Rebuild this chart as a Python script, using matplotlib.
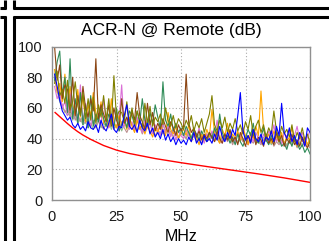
import matplotlib
matplotlib.use("Agg")
import matplotlib.pyplot as plt
from matplotlib.lines import Line2D
import numpy as np

plt.rcParams['font.family'] = ['Liberation Sans', 'DejaVu Sans']

title = "ACR-N @ Remote (dB)"
xlabel = "MHz"
xticks = [0, 25, 50, 75, 100]
yticks = [0, 20, 40, 60, 80, 100]

freq = list(range(1, 101))

blue = [82, 74, 65, 58, 55, 52, 54, 49, 47, 50,
        46, 48, 45, 51, 47, 46, 49, 44, 52, 47,
        45, 50, 56, 46, 44, 48, 47, 55, 62, 48,
        46, 49, 44, 52, 47, 45, 50, 43, 47, 41,
        44, 40, 46, 39, 43, 38, 41, 36, 40, 37,
        39, 36, 41, 38, 44, 37, 40, 36, 42, 38,
        40, 37, 43, 39, 48, 41, 38, 44, 40, 46,
        42, 55, 70, 45, 39, 42, 37, 46, 40, 38,
        43, 36, 41, 39, 45, 38, 48, 42, 63, 44,
        40, 47, 38, 42, 36, 44, 40, 35, 47, 44]
seagreen = [78, 90, 97, 68, 80, 57, 92, 53, 66, 50,
            70, 49, 62, 47, 68, 48, 56, 51, 60, 53,
            48, 56, 52, 47, 60, 45, 49, 54, 47, 58,
            55, 49, 58, 50, 66, 52, 48, 57, 50, 62,
            54, 47, 77, 52, 48, 56, 45, 50, 44, 47,
            42, 48, 44, 40, 46, 43, 39, 45, 41, 38,
            44, 40, 47, 42, 56, 44, 39, 42, 37, 41,
            36, 43, 38, 35, 40, 46, 42, 50, 39, 37,
            41, 47, 39, 36, 42, 38, 44, 40, 35, 37,
            33, 39, 35, 41, 37, 33, 36, 31, 34, 30]
orange = [85, 70, 76, 64, 82, 60, 74, 63, 55, 72,
          54, 68, 51, 62, 55, 70, 57, 52, 64, 50,
          53, 48, 66, 51, 47, 55, 49, 52, 46, 54,
          48, 44, 52, 46, 50, 43, 48, 45, 41, 47,
          44, 50, 45, 42, 57, 46, 43, 48, 40, 44,
          46, 42, 49, 38, 44, 41, 36, 43, 39, 46,
          41, 59, 44, 40, 37, 46, 42, 50, 39, 43,
          40, 45, 38, 47, 42, 36, 44, 40, 48, 42,
          71, 46, 39, 43, 37, 45, 41, 38, 44, 36,
          42, 39, 47, 40, 35, 43, 38, 41, 36, 40]
brown = [100, 78, 88, 66, 75, 72, 57, 80, 55, 68,
         56, 74, 60, 54, 66, 58, 92, 53, 62, 56,
         51, 62, 48, 60, 52, 47, 66, 50, 54, 48,
         58, 52, 70, 55, 51, 46, 63, 49, 57, 45,
         50, 46, 53, 48, 44, 51, 47, 42, 49, 45,
         48, 82, 50, 44, 47, 41, 45, 39, 43, 40,
         44, 41, 38, 45, 40, 37, 43, 39, 46, 38,
         41, 36, 44, 40, 35, 42, 38, 45, 36, 41,
         39, 35, 43, 37, 40, 36, 44, 38, 42, 35,
         40, 37, 43, 36, 39, 35, 41, 37, 34, 38]
olive = [76, 84, 68, 72, 63, 78, 59, 64, 77, 61,
         55, 70, 53, 66, 52, 67, 50, 62, 54, 68,
         52, 66, 49, 81, 53, 58, 57, 51, 64, 50,
         60, 49, 58, 52, 47, 63, 50, 61, 48, 54,
         51, 56, 49, 60, 52, 48, 55, 47, 53, 50,
         46, 52, 48, 55, 45, 51, 47, 53, 44, 50,
         56, 68, 49, 45, 52, 47, 54, 44, 50, 46,
         53, 45, 49, 43, 51, 46, 55, 42, 48, 52,
         44, 49, 41, 47, 43, 58, 45, 40, 48, 43,
         46, 41, 49, 38, 44, 40, 47, 39, 43, 37]
orchid = [74, 66, 70, 60, 64, 55, 72, 53, 58, 51,
          75, 50, 63, 52, 48, 65, 51, 54, 49, 66,
          50, 47, 55, 49, 58, 52, 75, 48, 53, 46,
          51, 45, 54, 48, 44, 52, 47, 50, 43, 49,
          46, 42, 50, 44, 48, 41, 46, 39, 45, 42,
          40, 46, 42, 38, 44, 40, 47, 41, 37, 43,
          39, 45, 41, 52, 40, 37, 43, 39, 45, 41,
          38, 44, 40, 47, 39, 36, 42, 38, 44, 40,
          37, 43, 39, 45, 41, 49, 38, 42, 36, 44,
          40, 46, 38, 42, 48, 39, 44, 37, 41, 45]
tan = [80, 72, 66, 62, 57, 60, 54, 58, 52, 56,
       51, 55, 50, 53, 48, 52, 47, 51, 49, 46,
       50, 47, 52, 46, 49, 45, 51, 47, 44, 48,
       46, 50, 45, 48, 43, 47, 52, 44, 46, 42,
       45, 48, 43, 46, 42, 45, 41, 44, 40, 43,
       42, 40, 44, 39, 42, 38, 41, 37, 40, 43,
       39, 42, 38, 41, 37, 40, 43, 38, 41, 36,
       40, 37, 41, 38, 42, 36, 39, 37, 40, 38,
       36, 39, 41, 37, 40, 35, 38, 36, 39, 37,
       35, 38, 36, 39, 34, 37, 35, 38, 36, 34]
lightgreen = [79, 71, 64, 60, 58, 55, 57, 52, 55, 50,
              53, 49, 51, 47, 50, 46, 49, 52, 47, 50,
              48, 52, 46, 50, 47, 51, 45, 49, 53, 47,
              50, 46, 52, 48, 45, 49, 47, 51, 44, 48,
              46, 43, 49, 45, 47, 42, 46, 44, 41, 45,
              43, 40, 44, 41, 45, 39, 43, 40, 42, 38,
              41, 44, 39, 42, 38, 41, 43, 39, 41, 37,
              40, 38, 42, 39, 41, 37, 40, 43, 38, 40,
              37, 41, 38, 40, 36, 39, 42, 37, 40, 38,
              36, 39, 37, 40, 35, 38, 36, 39, 37, 35]

limit_freq = [1.2, 2, 3, 4, 5, 6, 8, 10, 12, 15, 20, 25, 30, 40, 50, 60, 70, 80, 90, 100]
limit_val = [57, 55.8, 54.3, 52.8, 51.3, 49.8, 47, 44.5, 42.3, 39.5, 35.5, 32.5, 30.3,
             27, 24.3, 21.8, 19.4, 17, 14.4, 11.5]

series = [
    (lightgreen, "#8fbc8f"),
    (tan, "#bc8f8f"),
    (orchid, "#da70d6"),
    (orange, "#ffa500"),
    (seagreen, "#2e8b57"),
    (brown, "#8b4513"),
    (olive, "#808000"),
    (blue, "#0000ff"),
]

W, H = 329, 241
fig = plt.figure(figsize=(W / 100, H / 100), dpi=100)
ax = fig.add_axes([52 / W, 1 - 200 / H, 258 / W, 153.5 / H])

for vals, col in series:
    ax.plot(freq, vals, color=col, lw=0.8)
ax.plot(limit_freq, limit_val, color="#ff0000", lw=1.0)

ax.set_xlim(0, 100)
ax.set_ylim(0, 100)
ax.set_xticks(xticks)
ax.set_yticks(yticks)
ax.tick_params(length=0, labelsize=10.5, colors="#1a1a1a")
ax.tick_params(axis="x", pad=7)
ax.tick_params(axis="y", pad=6.5)
ax.grid(True, linestyle=(0, (1, 2)), color="#aaaaaa", lw=0.8)
for s in ax.spines.values():
    s.set_color("#909090")
    s.set_linewidth(1.0)
ax.set_xlabel(xlabel, fontsize=11.5, labelpad=4)
fig.text(171 / W, 1 - 30 / H, title, ha="center", va="center", fontsize=12.5)

# panel border lines (figure pixel coords)
def hline(y, x0, x1):
    fig.add_artist(Line2D([x0 / W, x1 / W], [1 - y / H, 1 - y / H], color="black", lw=2.2,
                          transform=fig.transFigure, solid_capstyle="butt"))

def vline(x, y0, y1):
    fig.add_artist(Line2D([x / W, x / W], [1 - y0 / H, 1 - y1 / H], color="black", lw=2.2,
                          transform=fig.transFigure, solid_capstyle="butt"))

hline(7.5, 0, 5.5)
vline(4.5, 0, 8.5)
hline(7.5, 12.5, W)
vline(13.5, 0, 8.5)
hline(16.5, 0, 5.5)
vline(4.5, 15.5, H)
hline(16.5, 12.5, W)
vline(13.5, 15.5, H)

fig.savefig("out.png", dpi=100)
